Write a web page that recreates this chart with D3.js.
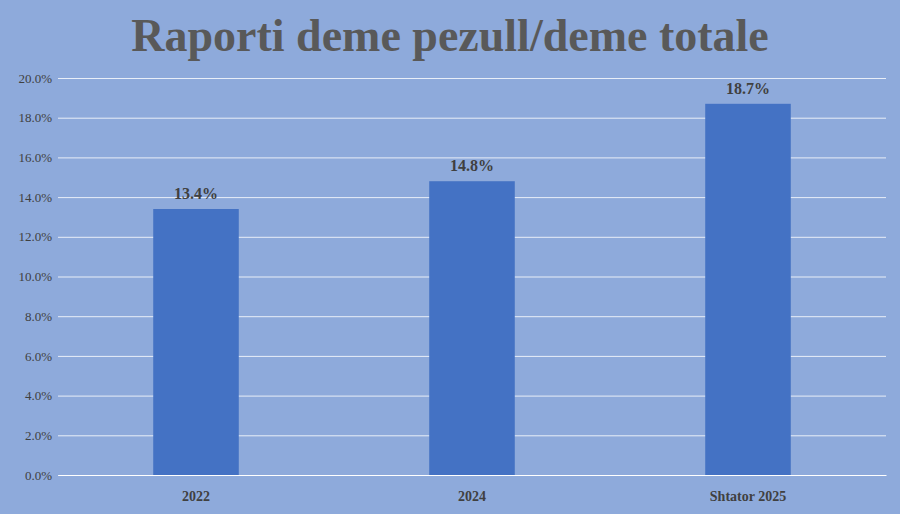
<!DOCTYPE html>
<html><head><meta charset="utf-8">
<script src="https://cdn.jsdelivr.net/npm/d3@7"></script>
<style>body{margin:0;background:#8eaadb;}svg{display:block;}</style>
</head><body>
<script>
const categories = ["2022", "2024", "Shtator 2025"];
const values = [13.4, 14.8, 18.7];
const yTicks = [0, 2, 4, 6, 8, 10, 12, 14, 16, 18, 20];
const title = "Raporti deme pezull/deme totale";

const W = 900, H = 514;
const m = {left: 58, right: 14, top: 78, bottom: 39};
const svg = d3.select("body").append("svg").attr("width", W).attr("height", H);
svg.append("rect").attr("width", W).attr("height", H).attr("fill", "#8eaadb");

const x = d3.scaleBand().domain(categories).range([m.left, W - m.right]).paddingInner(0.69).paddingOuter(0.345);
const y = d3.scaleLinear().domain([0, 20]).range([H - m.bottom, m.top]);

svg.append("text").attr("x", 450).attr("y", 51).attr("text-anchor", "middle")
  .attr("font-family", "Liberation Serif").attr("font-weight", "bold").attr("font-size", 46)
  .attr("fill", "#595959").text(title);

const yAxis = svg.append("g").attr("transform", `translate(${m.left},0)`)
  .call(d3.axisLeft(y).tickValues(yTicks).tickSize(-(W - m.left - m.right)).tickFormat(d => d.toFixed(1) + "%"));
yAxis.select(".domain").remove();
yAxis.selectAll("line").attr("stroke", "#ffffff").attr("stroke-opacity", 0.8);
yAxis.selectAll("text").attr("font-family", "Liberation Serif").attr("font-size", 13).attr("fill", "#404040").attr("x", -6);

svg.selectAll(".bar").data(values).enter().append("rect")
  .attr("x", (d, i) => x(categories[i])).attr("width", x.bandwidth())
  .attr("y", d => y(d)).attr("height", d => y(0) - y(d)).attr("fill", "#4472c4");

svg.selectAll(".lbl").data(values).enter().append("text")
  .attr("x", (d, i) => x(categories[i]) + x.bandwidth() / 2).attr("y", d => y(d) - 10)
  .attr("text-anchor", "middle").attr("font-family", "Liberation Serif").attr("font-weight", "bold")
  .attr("font-size", 16).attr("fill", "#404040").text(d => d.toFixed(1) + "%");

const xAxis = svg.append("g").attr("transform", `translate(0,${y(0)})`)
  .call(d3.axisBottom(x).tickSize(0).tickPadding(16));
xAxis.select(".domain").attr("stroke", "#ffffff");
xAxis.selectAll("text").attr("font-family", "Liberation Serif").attr("font-weight", "bold")
  .attr("font-size", 14).attr("fill", "#404040");
</script>
</body></html>
